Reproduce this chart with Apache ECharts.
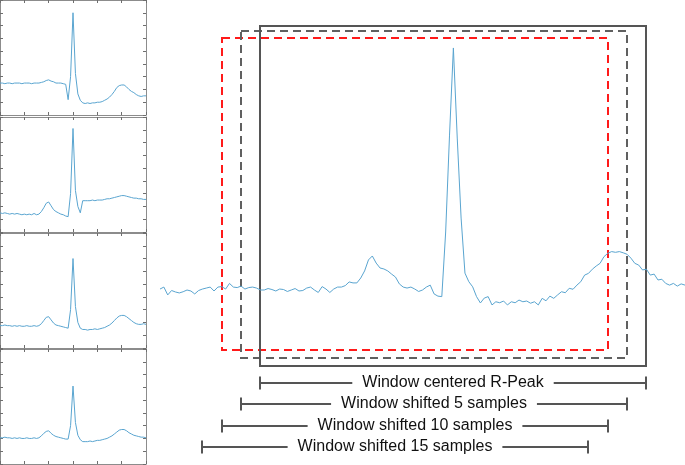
<!DOCTYPE html>
<html><head><meta charset="utf-8">
<script src="https://cdn.jsdelivr.net/npm/echarts@6/dist/echarts.min.js"></script>
<style>html,body{margin:0;padding:0;background:#fff}#c{width:685px;height:465px}</style>
</head><body><div id="c"></div>
<script>
// ---- DATA ----
// Long ECG trace, samples relative to the R-peak (sample 0)
const traceStart = -76;
const traceValues = [
  0.004, 0.012, -0.02, -0.002, -0.008, -0.012, -0.007, 0, -0.004, -0.016,
  -0.002, 0.004, 0.008, 0.012, -0.004, 0.012, 0.014, 0.004, 0.027, 0.012,
  0.01, 0.016, 0.004, 0.01, 0.012, 0.008, 0, 0, 0.006, 0.002,
  -0.004, 0.004, 0.002, -0.006, 0, 0.006, -0.004, -0.002, 0.008, 0.012,
  0, -0.01, 0.014, 0.004, -0.01, 0.004, 0.012, 0.012, 0.018, 0.033,
  0.029, 0.029, 0.049, 0.078, 0.123, 0.139, 0.110, 0.090, 0.086, 0.078,
  0.065, 0.053, 0.025, 0.012, 0.008, 0.012, 0.004, -0.006, 0, 0.012,
  0.02, -0.016, -0.025, -0.027, 0.237, 0.633, 0.989, 0.621, 0.294, 0.069,
  0.034, 0.013, -0.027, -0.053, -0.033, -0.027, -0.061, -0.048, -0.052, -0.045,
  -0.061, -0.048, -0.052, -0.041, -0.048, -0.045, -0.054, -0.048, -0.061, -0.034,
  -0.044, -0.025, -0.034, -0.020, -0.007, -0.011, 0.007, 0.003, 0.020, 0.034,
  0.061, 0.068, 0.085, 0.098, 0.109, 0.136, 0.150, 0.157, 0.154, 0.157,
  0.152, 0.146, 0.130, 0.109, 0.102, 0.082, 0.085, 0.061, 0.065, 0.041,
  0.044, 0.027, 0.020, 0.027, 0.016, 0.025, 0.020
];
// Four windowed beats (small panels), one value every 5 samples, 0..300
const beatStep = 5;
const beat1 = [
  -0.10, -0.10, -0.11, -0.10, -0.10, -0.11, -0.10, -0.10, -0.10, -0.11,
  -0.10, -0.10, -0.10, -0.11, -0.10, -0.10, -0.10, -0.09, -0.08, -0.06,
  -0.05, -0.07, -0.08, -0.10, -0.10, -0.10, -0.11, -0.12, -0.36, 0.00,
  1.00, 0.05, -0.27, -0.37, -0.41, -0.42, -0.41, -0.42, -0.41, -0.41,
  -0.40, -0.40, -0.39, -0.37, -0.35, -0.32, -0.28, -0.23, -0.17, -0.14,
  -0.13, -0.13, -0.16, -0.20, -0.23, -0.25, -0.28, -0.30, -0.31, -0.30,
  -0.30
];
const beat2 = [
  -0.30, -0.31, -0.30, -0.31, -0.32, -0.31, -0.32, -0.31, -0.32, -0.33,
  -0.32, -0.33, -0.32, -0.33, -0.31, -0.33, -0.32, -0.28, -0.22, -0.15,
  -0.13, -0.19, -0.25, -0.28, -0.30, -0.32, -0.33, -0.35, -0.36, 0.00,
  1.02, 0.05, -0.20, -0.30, -0.11, -0.11, -0.11, -0.11, -0.10, -0.11,
  -0.10, -0.10, -0.10, -0.09, -0.08, -0.08, -0.07, -0.06, -0.05, -0.04,
  -0.03, -0.03, -0.04, -0.05, -0.06, -0.07, -0.07, -0.08, -0.08, -0.09,
  -0.09
];
const beat3 = [
  -0.25, -0.25, -0.24, -0.25, -0.25, -0.26, -0.25, -0.26, -0.25, -0.26,
  -0.26, -0.25, -0.26, -0.26, -0.25, -0.26, -0.25, -0.22, -0.17, -0.12,
  -0.11, -0.16, -0.21, -0.24, -0.25, -0.26, -0.27, -0.28, -0.29, 0.00,
  0.80, 0.05, -0.20, -0.29, -0.31, -0.31, -0.32, -0.31, -0.31, -0.30,
  -0.31, -0.30, -0.29, -0.28, -0.26, -0.24, -0.21, -0.17, -0.13, -0.10,
  -0.09, -0.09, -0.11, -0.14, -0.17, -0.20, -0.22, -0.23, -0.23, -0.22,
  -0.23
];
const beat4 = [
  -0.19, -0.19, -0.18, -0.19, -0.19, -0.20, -0.19, -0.20, -0.19, -0.20,
  -0.20, -0.19, -0.20, -0.20, -0.19, -0.20, -0.19, -0.16, -0.12, -0.09,
  -0.08, -0.12, -0.15, -0.17, -0.18, -0.19, -0.20, -0.21, -0.21, 0.00,
  0.62, 0.05, -0.15, -0.22, -0.25, -0.25, -0.25, -0.24, -0.25, -0.24,
  -0.23, -0.23, -0.22, -0.21, -0.20, -0.18, -0.16, -0.13, -0.10, -0.07,
  -0.06, -0.06, -0.08, -0.11, -0.13, -0.15, -0.16, -0.17, -0.18, -0.18,
  -0.19
];
// Windows (in samples)
const windowLength = 100;
const windowShifts = [0, 5, 10, 15];
const windowLabels = [
  'Window centered R-Peak',
  'Window shifted 5 samples',
  'Window shifted 10 samples',
  'Window shifted 15 samples'
];

// ---- LAYOUT / STYLE ----
const LINE = '#5aa5d0';
const FRAME = '#8c8c8c';
const TICK = '#6e6e6e';
const panelTops = [0, 117, 233, 349];
const panelH = 115, panelW = 146;
const boxStyles = [
  {stroke: '#555555', dash: null, top: 1.08, bottom: -0.31},
  {stroke: '#606060', dash: [8, 5], top: 1.06, bottom: -0.278},
  {stroke: '#ff1a1a', dash: [8, 5], top: 1.03, bottom: -0.245}
];
const bracketLevels = [-0.381, -0.467, -0.555, -0.641];

const grids = [], xAxes = [], yAxes = [], series = [];
const beats = [beat1, beat2, beat3, beat4];
beats.forEach((b, k) => {
  grids.push({left: 0, top: panelTops[k], width: panelW, height: panelH, show: false});
  const xi = xAxes.length, yi = yAxes.length;
  ['bottom', 'top'].forEach(pos => xAxes.push({
    gridIndex: k, type: 'value', position: pos, min: 0, max: 300, interval: 50,
    axisLine: {show: true, onZero: false, lineStyle: {color: FRAME, width: 1}},
    axisTick: {show: true, inside: true, length: 3, lineStyle: {color: TICK}},
    axisLabel: {show: false}, splitLine: {show: false}
  }));
  ['left', 'right'].forEach(pos => yAxes.push({
    gridIndex: k, type: 'value', position: pos, min: -0.6, max: 1.2, interval: 0.2,
    axisLine: {show: true, onZero: false, lineStyle: {color: FRAME, width: 1}},
    axisTick: {show: true, inside: true, length: 3, lineStyle: {color: TICK}},
    axisLabel: {show: false}, splitLine: {show: false}
  }));
  series.push({
    type: 'line', xAxisIndex: xi, yAxisIndex: yi,
    data: b.map((v, i) => [i * beatStep, v]),
    symbol: 'none', showSymbol: false, lineStyle: {color: LINE, width: 1},
    animation: false, silent: true
  });
});

// Big trace grid
const gBig = grids.length;
grids.push({left: 160, top: 0, width: 525, height: 465, show: false});
const bx = xAxes.length, by = yAxes.length;
xAxes.push({gridIndex: gBig, type: 'value', min: -76, max: 60, show: false});
yAxes.push({gridIndex: gBig, type: 'value', min: -0.715, max: 1.185, show: false});

const windows = windowShifts.map(sh => [-windowLength / 2 - sh, windowLength / 2 - sh]);

series.push({
  type: 'line', xAxisIndex: bx, yAxisIndex: by,
  data: traceValues.map((v, i) => [traceStart + i, v]),
  symbol: 'none', showSymbol: false, lineStyle: {color: LINE, width: 1},
  animation: false, silent: true, z: 3
});

// window boxes (first three windows)
series.push({
  type: 'custom', xAxisIndex: bx, yAxisIndex: by, clip: false, silent: true, z: 2,
  animation: false,
  data: windows.slice(0, 3).map((w, i) => [w[0], w[1], i]).reverse(),
  renderItem: (params, api) => {
    const idx = api.value(2);
    const st = boxStyles[idx];
    const p1 = api.coord([api.value(0), st.top]);
    const p2 = api.coord([api.value(1), st.bottom]);
    return {
      type: 'rect',
      shape: {x: Math.round(p1[0]), y: Math.round(p1[1]), width: Math.round(p2[0] - p1[0]), height: Math.round(p2[1] - p1[1])},
      style: {fill: 'none', stroke: st.stroke, lineWidth: 2, lineDash: st.dash}
    };
  }
});

// brackets with labels
series.push({
  type: 'custom', xAxisIndex: bx, yAxisIndex: by, clip: false, silent: true, z: 4,
  animation: false,
  data: windows.map((w, i) => [w[0], w[1], i]),
  renderItem: (params, api) => {
    const i = api.value(2);
    const a = api.coord([api.value(0), bracketLevels[i]]);
    const b = api.coord([api.value(1), bracketLevels[i]]);
    const y = Math.round(a[1]);
    const x1 = Math.round(a[0]), x2 = Math.round(b[0]);
    const ls = {stroke: '#555555', lineWidth: 2};
    return {type: 'group', children: [
      {type: 'line', shape: {x1: x1, y1: y, x2: x2, y2: y}, style: ls},
      {type: 'line', shape: {x1: x1, y1: y - 6.5, x2: x1, y2: y + 6.5}, style: ls},
      {type: 'line', shape: {x1: x2, y1: y - 6.5, x2: x2, y2: y + 6.5}, style: ls},
      {type: 'text', x: (x1 + x2) / 2, y: y, z2: 10, style: {
        text: windowLabels[i], fill: '#111111',
        font: '16px "Liberation Sans", Arial, sans-serif',
        align: 'center', verticalAlign: 'middle',
        textAlign: 'center', textVerticalAlign: 'middle',
        backgroundColor: '#ffffff', padding: [1, 10]
      }}
    ]};
  }
});

const chart = echarts.init(document.getElementById('c'), null, {renderer: 'canvas'});
chart.setOption({
  animation: false,
  backgroundColor: '#ffffff',
  grid: grids, xAxis: xAxes, yAxis: yAxes, series: series
});
</script>
</body></html>
